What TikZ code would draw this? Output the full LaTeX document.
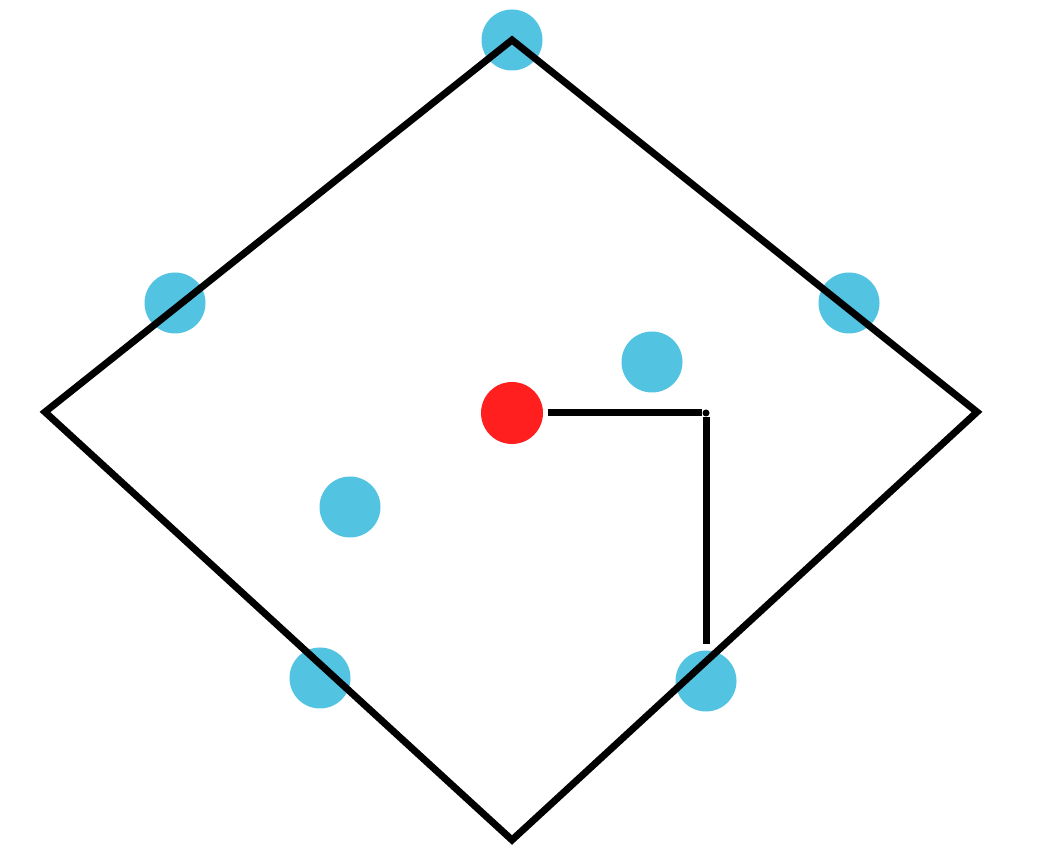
\documentclass[tikz,border=0pt]{standalone}
\usepackage{amsmath}
\usepackage{amssymb}

\definecolor{dotblue}{RGB}{83,195,226}
\definecolor{dotred}{RGB}{255,31,31}

\begin{document}
\begin{tikzpicture}
				[every node/.style={circle,inner sep=0pt,minimum size=0.61cm,fill=dotblue}]
				\useasboundingbox (0,0) rectangle (10.37,8.49);
				\node (b1) at (5.12,8.09) {};
				\node (b2) at (1.75,5.46) {};
				\node (b3) at (8.49,5.46) {};
				\node (b4) at (6.52,4.87) {};
				\node (b5) at (3.50,3.42) {};
				\node (b6) at (3.20,1.71) {};
				\node (b7) at (7.06,1.68) {};
				\node[fill=dotred,minimum size=0.62cm] (r) at (5.12,4.36) {};
				\node[fill=black,minimum size=0.07cm] (c) at (7.06,4.36) {};
				
				\coordinate (top) at (5.12,8.09);
				\coordinate (left) at (0.45,4.37);
				\coordinate (bottom) at (5.12,0.09);
				\coordinate (right) at (9.77,4.37);
				\draw[line width=0.07cm,line join=miter] (top) -- (left) -- (bottom) -- (right) -- cycle;
				
				\draw[line width=0.07cm,shorten <=0.04cm] (r) -- (c);
				\draw[line width=0.07cm,shorten >=0.06cm] (c) -- (b7);
				
				\end{tikzpicture}
\end{document}
